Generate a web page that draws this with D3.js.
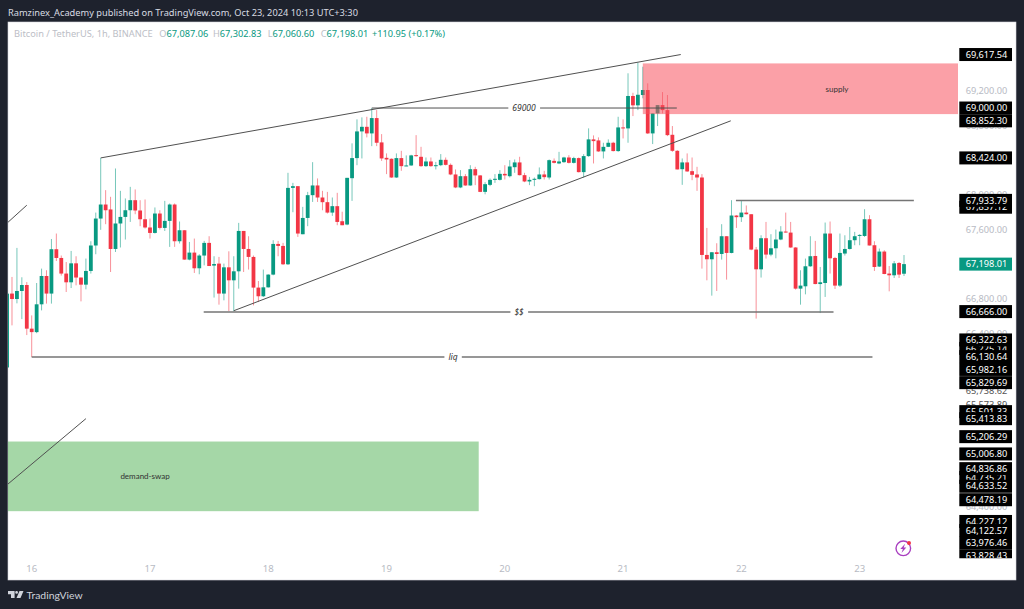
<!DOCTYPE html>
<html>
<head>
<meta charset="utf-8">
<title>Bitcoin / TetherUS</title>
<script src="https://cdn.jsdelivr.net/npm/d3@7"></script>
<style>
  html, body { margin: 0; padding: 0; background: #1e222d; overflow: hidden; }
  svg { display: block; font-family: "Noto Sans", sans-serif; }
</style>
</head>
<body>
<script>
// first candle is 5 hours before the "16" tick, it is cut by the left edge
var firstHour = -5;

var opens = [66005,
  66858,66795,66888,66957,66453,66413,66734,67061,66858,67370,
  67269,67089,66988,67207,67043,66961,67119,67413,67724,67886,
  67829,67373,67667,67743,67820,67936,67817,67716,67621,67558,
  67782,67616,67697,67886,67462,67589,67250,67331,67150,67297,
  67443,67181,67204,66858,67161,67011,67115,67581,67373,67281,
  66927,66827,66930,67077,67431,67408,67196,68078,68098,67543,
  67731,67994,68106,67967,67913,67793,67867,67693,67655,68190,
  68422,68730,68783,68707,68884,68603,68425,68414,68198,68422,
  68329,68337,68456,68437,68329,68383,68329,68340,68402,68344,
  68233,68083,68213,68106,68294,68222,68032,68113,68171,68171,
  68240,68213,68317,68372,68225,68152,68171,68179,68233,68198,
  68390,68360,68375,68429,68367,68422,68260,68445,68638,68626,
  68499,68552,68599,68503,68776,68765,69139,69031,69150,69208,
  68707,68938,69034,68976,68691,68506,68294,68372,68271,68233,
  68198,67304,67254,67335,67315,67520,67327,67759,67740,67793,
  67774,67366,67138,67497,67308,67381,67482,67574,67562,67390,
  66915,66942,67173,67292,66968,66980,67551,67269,66950,67320,
  67373,67474,67528,67523,67716,67416,67170,67343,67089,67069,
  67211,67087.06];

var highs = [66860,
  67050,67385,67046,66991,66606,66980,67146,67127,67488,67551,
  67297,67222,67350,67289,67043,67262,67462,67793,68424,68052,
  67975,68302,68044,67956,68090,68060,67936,67944,67724,67852,
  67820,67928,67898,67898,67690,67589,67454,67493,67312,67466,
  67520,67289,67281,67204,67346,67289,67674,67581,67520,67297,
  67003,67135,67081,67474,67466,67443,68252,68136,68098,67859,
  68032,68375,68187,68044,68032,67967,68021,67803,68194,68592,
  68869,68892,68899,69000,68976,68699,68476,68418,68476,68506,
  68453,68460,68687,68552,68429,68429,68378,68468,68429,68360,
  68291,68283,68237,68340,68321,68225,68144,68187,68237,68283,
  68340,68398,68406,68437,68252,68205,68198,68314,68275,68406,
  68418,68494,68437,68456,68437,68429,68468,68765,68684,68661,
  68599,68638,68610,68899,68869,69401,69176,69523,69477,69285,
  68938,69034,69184,69150,68792,68514,68418,68476,68429,68321,
  68237,67616,67338,67439,67659,67520,67936,67763,67934,67875,
  67774,67396,67531,67685,67543,67597,67636,67793,67685,67393,
  67127,67262,67520,67466,67165,67678,67690,67281,67551,67531,
  67627,67570,67543,67832,67763,67462,67378,67358,67176,67234,
  67222,67302.83];

var lows = [66005,
  66491,66745,66563,66379,66125,66401,66664,66742,66742,67234,
  67066,66876,66922,66953,66768,66907,67089,67312,67594,67659,
  67107,67338,67390,67482,67685,67774,67636,67609,67493,67551,
  67598,67581,67397,67397,67436,67250,67242,67096,67081,67184,
  67176,66812,66730,66780,66656,66656,66915,67107,67135,66722,
  66760,66819,66927,67069,67289,67188,67188,67797,67512,67543,
  67636,67916,67916,67820,67782,67755,67647,67647,67647,67928,
  68340,68418,68661,68560,68560,68390,68237,68194,68194,68275,
  68329,68333,68437,68321,68321,68321,68291,68329,68337,68225,
  68075,68075,68102,68102,68110,68029,68004,68098,68136,68164,
  68175,68198,68252,68222,68144,68110,68098,68175,68175,68175,
  68360,68352,68367,68360,68360,68256,68198,68437,68360,68494,
  68418,68549,68499,68494,68649,68599,68907,68976,69112,68700,
  68584,68792,68938,68676,68494,68291,68113,68263,68167,68044,
  67146,67011,66834,66888,67250,67019,67323,67616,67685,67770,
  67358,66569,67043,67262,67289,67265,67474,67562,67386,66904,
  66730,66849,67167,66965,66633,66819,67089,66911,66934,67297,
  67366,67416,67416,67512,67413,67119,67165,67081,66884,67038,
  67038,67060.60];

var closes = [66857,
  66795,66888,66957,66453,66413,66734,67061,66858,67370,67269,
  67089,66988,67207,67043,66961,67119,67413,67724,67886,67820,
  67373,67667,67743,67820,67936,67817,67716,67621,67558,67782,
  67616,67697,67886,67462,67589,67250,67331,67150,67297,67443,
  67176,67199,66858,67161,67011,67115,67581,67373,67281,66927,
  66827,66930,67077,67431,67408,67196,68078,68098,67551,67731,
  67994,68106,67967,67913,67793,67867,67685,67647,68194,68422,
  68730,68783,68707,68884,68599,68418,68406,68198,68422,68329,
  68337,68453,68445,68329,68383,68329,68340,68402,68344,68233,
  68083,68213,68106,68294,68222,68032,68121,68171,68183,68240,
  68222,68325,68372,68225,68152,68171,68183,68233,68202,68398,
  68367,68383,68429,68367,68422,68260,68445,68638,68618,68499,
  68552,68599,68503,68776,68765,69139,69031,69153,69208,68707,
  68938,69034,68976,68687,68506,68291,68372,68268,68229,68198,
  67304,67254,67335,67315,67520,67327,67759,67740,67793,67774,
  67366,67138,67497,67308,67381,67482,67574,67566,67390,66915,
  66950,67173,67289,66968,66988,67551,67265,66950,67327,67373,
  67474,67520,67535,67716,67413,67165,67343,67084,67069,67207,
  67077,67198.01];

// hours since the 16th
var dayHours = [0, 24, 48, 72, 96, 120, 144, 168];
var dayLabels = ["16", "17", "18", "19", "20", "21", "22", "23"];

var priceTicks = [69200, 68800, 68400, 68000, 67600, 67200, 66800, 66400, 66000, 65200, 64800, 64400, 64000];

// black price labels, drawn in this order so later ones cover earlier ones
var labelLevels = [69617.54, 69000, 68852.30, 68424, 67855, 67933.79, 66650, 66225, 66322.63, 66130.64, 65982.16, 65829.69,
                   65495, 65413.83, 65206.29, 65006.80, 64735, 64836.86, 64633.52, 64478.19, 64227.12, 64122.57, 63976.46, 63828.43];
var labelTexts = ["69,617.54", "69,000.00", "68,852.30", "68,424.00", "67,857.12", "67,933.79", "66,666.00", "66,225.14", "66,322.63", "66,130.64", "65,982.16", "65,829.69",
                  "65,501.33", "65,413.83", "65,206.29", "65,006.80", "64,735.21", "64,836.86", "64,633.52", "64,478.19", "64,227.12", "64,122.57", "63,976.46", "63,828.43"];

var bareLevels = [65738.62, 65573.89];
var bareTexts = ["65,738.62", "65,573.89"];

// trend lines and horizontal drawings
var lineStartHours = [14, 41, -4.8, -4.8];
var lineStartPrices = [68424, 66660, 67682, 64660];
var lineEndHours = [131.7, 141.85, -1, 11];
var lineEndPrices = [69617.54, 68852.30, 67878, 65413.83];

var levelNames = ["69000", "$$", "liq", ""];
var levelPrices = [69000, 66645, 66125, 67933.79];
var levelStarts = [69, 34.9, 0, 142.9];
var levelEnds = [130.9, 162.7, 170.6, 179];
var levelTextHours = [99.9, 98.9, 85.5, 0];

var zoneNames = ["supply", "demand-swap"];
var zoneTops = [69515, 65150];
var zoneBottoms = [68930, 64346];
var zoneStarts = [124, -6];
var zoneEnds = [193, 90.7];
var zoneTextHours = [163.4, 23];
var zoneTextPrices = [69219, 64745];

var legendPairs = [["O", "67,087.06"], ["H", "67,302.83"], ["L", "67,060.60"], ["C", "67,198.01"]];

var screen = { width: 1024, height: 609 };
var panel = { left: 8, top: 22, right: 1016, bottom: 580, axis: 958 };

var upColor = "#089981";
var downColor = "#f23645";
var priceFontSize = 9.2;
var labelX = 986.5;

var candles = opens.map(function(o, i) {
  return { hour: firstHour + i, open: o, high: highs[i], low: lows[i], close: closes[i] };
});

var xScale = d3.scaleLinear().domain([-5, 177]).range([7.07, 904]);
var yScale = d3.scaleLinear().domain([69200, 63828.43]).range([90.7, 556]);

var svg = d3.select("body")
            .append("svg")
            .attr("width", screen.width)
            .attr("height", screen.height);

svg.append("rect")
   .attr("width", screen.width)
   .attr("height", screen.height)
   .attr("fill", "#1e222d");

svg.append("rect")
   .attr("x", panel.left)
   .attr("y", panel.top)
   .attr("width", panel.right - panel.left)
   .attr("height", panel.bottom - panel.top)
   .attr("fill", "white")
   .attr("stroke", "#d6d8de")
   .attr("stroke-width", 0.6);

svg.append("clipPath")
   .attr("id", "plotClip")
   .append("rect")
   .attr("x", panel.left)
   .attr("y", panel.top)
   .attr("width", panel.axis - panel.left)
   .attr("height", panel.bottom - panel.top);

svg.append("clipPath")
   .attr("id", "labelClip")
   .append("rect")
   .attr("x", panel.axis)
   .attr("y", panel.top)
   .attr("width", panel.right - panel.axis)
   .attr("height", 558.3 - panel.top);

var plot = svg.append("g").attr("clip-path", "url(#plotClip)");

// candles
var candleGroup = plot.append("g").attr("class", "candles");

candleGroup.selectAll("line")
   .data(candles)
   .enter()
   .append("line")
   .attr("x1", function(d) { return xScale(d.hour); })
   .attr("x2", function(d) { return xScale(d.hour); })
   .attr("y1", function(d) { return yScale(d.high); })
   .attr("y2", function(d) { return yScale(d.low); })
   .attr("stroke", function(d) { return d.close >= d.open ? upColor : downColor; })
   .attr("stroke-opacity", 0.55)
   .attr("stroke-width", 1);

candleGroup.selectAll("rect")
   .data(candles)
   .enter()
   .append("rect")
   .attr("x", function(d) { return xScale(d.hour) - 1.9; })
   .attr("width", 3.8)
   .attr("y", function(d) { return yScale(Math.max(d.open, d.close)); })
   .attr("height", function(d) { return Math.max(1, Math.abs(yScale(d.open) - yScale(d.close))); })
   .attr("fill", function(d) { return d.close >= d.open ? upColor : downColor; });

// zones sit on top of the candles, green turns grey under the red one
var zoneColors = ["rgba(247,82,95,0.55)", "rgba(76,175,80,0.5)"];

plot.selectAll(".zone")
    .data(zoneNames)
    .enter()
    .append("rect")
    .attr("class", "zone")
    .attr("x", function(d, i) { return xScale(zoneStarts[i]); })
    .attr("width", function(d, i) { return xScale(zoneEnds[i]) - xScale(zoneStarts[i]); })
    .attr("y", function(d, i) { return yScale(zoneTops[i]); })
    .attr("height", function(d, i) { return yScale(zoneBottoms[i]) - yScale(zoneTops[i]); })
    .attr("fill", function(d, i) { return zoneColors[i]; });

plot.selectAll(".zoneText")
    .data(zoneNames)
    .enter()
    .append("text")
    .attr("class", "zoneText")
    .attr("x", function(d, i) { return xScale(zoneTextHours[i]); })
    .attr("y", function(d, i) { return yScale(zoneTextPrices[i]); })
    .attr("dy", "0.35em")
    .attr("text-anchor", "middle")
    .attr("font-size", 8)
    .attr("font-family", "Lato, sans-serif")
    .attr("fill", "#333")
    .text(function(d) { return d; });

// trend lines
plot.selectAll(".trend")
    .data(lineStartHours)
    .enter()
    .append("line")
    .attr("class", "trend")
    .attr("x1", function(d) { return xScale(d); })
    .attr("y1", function(d, i) { return yScale(lineStartPrices[i]); })
    .attr("x2", function(d, i) { return xScale(lineEndHours[i]); })
    .attr("y2", function(d, i) { return yScale(lineEndPrices[i]); })
    .attr("stroke", "#505050")
    .attr("stroke-width", 1);

// horizontal levels with their names in the middle
plot.selectAll(".level")
    .data(levelNames)
    .enter()
    .append("line")
    .attr("class", "level")
    .attr("x1", function(d, i) { return xScale(levelStarts[i]); })
    .attr("x2", function(d, i) { return xScale(levelEnds[i]); })
    .attr("y1", function(d, i) { return yScale(levelPrices[i]); })
    .attr("y2", function(d, i) { return yScale(levelPrices[i]); })
    .attr("stroke", function(d, i) { return i == 0 ? "#505050" : "#757575"; })
    .attr("stroke-width", function(d, i) { return i == 0 ? 1 : 1.5; });

levelNames.forEach(function(name, i) {
  if (name == "") return;
  var label = plot.append("text")
                  .attr("x", xScale(levelTextHours[i]))
                  .attr("y", yScale(levelPrices[i]))
                  .attr("dy", "0.35em")
                  .attr("text-anchor", "middle")
                  .attr("font-size", 8.5)
                  .attr("font-style", "italic")
                  .attr("fill", "#333")
                  .text(name);
  var box = label.node().getBBox();
  plot.insert("rect", function() { return label.node(); })
      .attr("x", box.x - 4)
      .attr("y", box.y)
      .attr("width", box.width + 8)
      .attr("height", box.height)
      .attr("fill", "white");
});

// price axis, the black labels cover most of its ticks
var yAxis = d3.axisRight(yScale)
              .tickValues(priceTicks)
              .tickSize(0)
              .tickPadding(0)
              .tickFormat(d3.format(",.2f"));

var yAxisGroup = svg.append("g")
   .attr("class", "yAxis")
   .attr("transform", "translate(" + labelX + ",0)")
   .call(yAxis);

yAxisGroup.select(".domain").remove();
yAxisGroup.selectAll("text")
   .attr("text-anchor", "middle")
   .attr("font-size", priceFontSize)
   .attr("font-family", "\"Noto Sans\", sans-serif")
   .attr("fill", "#b8bbc4");

var labelGroup = svg.append("g").attr("clip-path", "url(#labelClip)");

labelGroup.selectAll(".bare")
   .data(bareLevels)
   .enter()
   .append("text")
   .attr("class", "bare")
   .attr("x", labelX)
   .attr("y", function(d) { return yScale(d); })
   .attr("dy", "0.35em")
   .attr("text-anchor", "middle")
   .attr("font-size", priceFontSize)
   .attr("fill", "#555")
   .text(function(d, i) { return bareTexts[i]; });

labelLevels.forEach(function(level, i) {
  labelGroup.append("rect")
            .attr("x", 959.3)
            .attr("y", yScale(level) - 6.5)
            .attr("width", 52.7)
            .attr("height", 13)
            .attr("fill", "black");
  labelGroup.append("text")
            .attr("x", labelX)
            .attr("y", yScale(level))
            .attr("dy", "0.35em")
            .attr("text-anchor", "middle")
            .attr("font-size", priceFontSize)
            .attr("fill", "white")
            .text(labelTexts[i]);
});

// last price
svg.append("rect")
   .attr("x", 959.3)
   .attr("y", yScale(closes[closes.length - 1]) - 6.5)
   .attr("width", 52.7)
   .attr("height", 13)
   .attr("fill", upColor);

svg.append("text")
   .attr("x", labelX)
   .attr("y", yScale(closes[closes.length - 1]))
   .attr("dy", "0.35em")
   .attr("text-anchor", "middle")
   .attr("font-size", priceFontSize)
   .attr("fill", "white")
   .text("67,198.01");

// time axis
var xAxis = d3.axisBottom(xScale)
              .tickValues(dayHours)
              .tickSize(0)
              .tickPadding(0)
              .tickFormat(function(d, i) { return dayLabels[i]; });

var xAxisGroup = svg.append("g")
   .attr("class", "xAxis")
   .attr("transform", "translate(-0.5,565)")
   .call(xAxis);

xAxisGroup.select(".domain").remove();
xAxisGroup.selectAll("text")
   .attr("font-size", 9.6)
   .attr("font-family", "\"Noto Sans\", sans-serif")
   .attr("fill", "#b8bbc4");

// header and legend
svg.append("text")
   .attr("x", 8)
   .attr("y", 15.5)
   .attr("font-size", 9.25)
   .attr("fill", "#d8dbe2")
   .text("Ramzinex_Academy published on TradingView.com, Oct 23, 2024 10:13 UTC+3:30");

svg.append("text")
   .attr("x", 14)
   .attr("y", 37)
   .attr("font-size", 9.25)
   .attr("fill", "#bcbec6")
   .text("Bitcoin / TetherUS, 1h, BINANCE");

var legendX = [159.3, 213, 267.7, 320.7];

legendPairs.forEach(function(pair, i) {
  var t = svg.append("text")
             .attr("x", legendX[i])
             .attr("y", 37)
             .attr("font-size", priceFontSize);
  t.append("tspan").attr("fill", "#bcbec6").text(pair[0]);
  t.append("tspan").attr("fill", upColor).text(pair[1]);
});

svg.append("text")
   .attr("x", 372)
   .attr("y", 37)
   .attr("font-size", priceFontSize)
   .attr("fill", upColor)
   .text("+110.95 (+0.17%)");

// bolt badge
var badge = svg.append("g").attr("transform", "translate(903.3,548.3)");

badge.append("circle")
     .attr("r", 7.3)
     .attr("fill", "none")
     .attr("stroke", "#a93fc0")
     .attr("stroke-width", 1.4);

badge.append("path")
     .attr("d", "M1.8,-4.6 L-3,0.8 L-0.4,0.8 L-1.8,4.6 L3,-0.8 L0.4,-0.8 Z")
     .attr("fill", "#a93fc0");

badge.append("circle")
     .attr("cx", 5.7)
     .attr("cy", -5.3)
     .attr("r", 2)
     .attr("fill", "#f23645");

// footer logo
svg.append("path")
   .attr("d", "M8,591 H14.6 V598 H11 V594.2 H8 Z M15,591 m3,1.4 a1.4,1.4 0 1,1 -2.8,0 a1.4,1.4 0 1,1 2.8,0 Z M19.5,591 H23.5 L20.5,598 H16.5 Z")
   .attr("fill", "#d1d4dc");

svg.append("text")
   .attr("x", 26.5)
   .attr("y", 598.5)
   .attr("font-family", "Lato, sans-serif")
   .attr("font-size", 10.4)
   .attr("fill", "#d1d4dc")
   .text("TradingView");
</script>
</body>
</html>
